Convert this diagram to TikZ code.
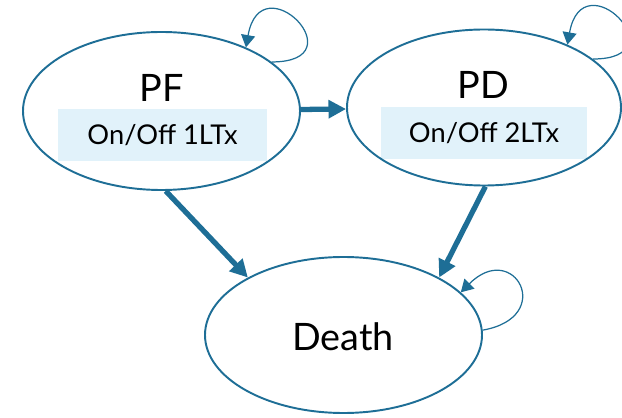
\documentclass[tikz,border=0pt]{standalone}
\usepackage{fontspec}
\setmainfont{Lato}
\usetikzlibrary{positioning,shapes.geometric,arrows.meta}
\definecolor{statecol}{HTML}{1E6E96}
\definecolor{boxcol}{HTML}{E1F2FA}

\begin{document}
\begin{tikzpicture}[
    state/.style={draw=statecol, ellipse, line width=1.1pt, inner sep=0pt},
    statename/.style={font=\fontsize{21.5}{24}\selectfont},
    txbox/.style={fill=boxcol, minimum height=1.04cm, inner sep=0pt, font=\fontsize{15.5}{18}\selectfont},
    trans/.style={draw=statecol, line width=3pt, -{Triangle[length=10pt,width=10pt]}},
    stay/.style={draw=statecol, line width=0.7pt, -{Triangle[length=7pt,width=8pt]}}
  ]
  \useasboundingbox (0,0) rectangle (12.44,8.34);

  % treatment boxes (under the ellipse borders)
  \node (pfbox) [txbox, minimum width=4.18cm] at (3.25,5.63) {On/Off 1LTx};
  \node (pdbox) [txbox, minimum width=4.12cm] at (9.68,5.67) {On/Off 2LTx};

  % states
  \node (pf) [state, minimum width=5.54cm, minimum height=3.16cm] at (3.23,6.12) {};
  \node (pd) [state, minimum width=5.48cm, minimum height=3.12cm] at (9.68,6.19) {};
  \node (death) [state, minimum width=5.54cm, minimum height=3.12cm] at (6.87,1.64) {};

  % labels
  \node (pfname) [statename] at (3.24,6.58) {PF};
  \node (pdname) [statename] at (9.66,6.64) {PD};
  \node (deathname) [statename] at (6.86,1.60) {Death};

  % transitions
  \path[trans] (pf) -- (pd);
  \path[trans] (pf.273) -- (death.149);
  \path[trans] (pd.271) -- (death.31);

  % staying in the same state
  \draw[stay] (pf.24) .. controls +(0:1.75) and +(80:1.75) .. (pf.37);
  \draw[stay] (pd.24) .. controls +(0:1.75) and +(80:1.75) .. (pd.37);
  \draw[stay] (death.2) .. controls +(10:1.5) and +(45:1.5) .. (death.20);
\end{tikzpicture}
\end{document}
